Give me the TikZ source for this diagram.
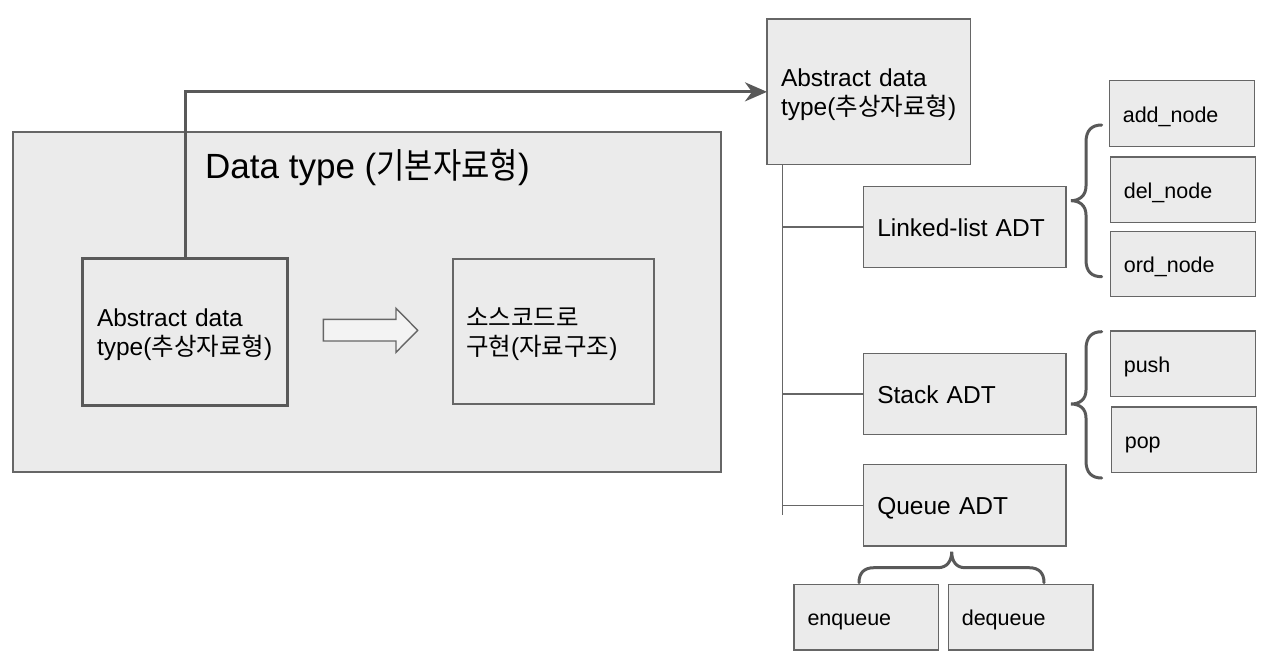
\documentclass[tikz,border=0pt]{standalone}
\usepackage{fontspec}
\usepackage{graphicx}
\setmainfont{Liberation Sans}
\newfontfamily\kr{Noto Sans CJK KR}
\usetikzlibrary{arrows.meta,calc}
\definecolor{boxfill}{HTML}{EBEBEB}
\definecolor{edge}{HTML}{666666}
\definecolor{dark}{HTML}{595959}
\definecolor{hollow}{HTML}{F3F3F3}
\begin{document}
\begin{tikzpicture}[x=1pt,y=-1pt,
  bx/.style n args={2}{draw=edge, fill=boxfill, line width=1.4pt, anchor=north west,
    inner xsep=14pt, inner ysep=0pt, outer sep=0pt, align=left,
    text width=#1, minimum height=#2},
  mid/.style={font=\fontsize{24.5}{29}\selectfont, text height=18.4pt, text depth=0pt},
  two/.style={font=\fontsize{24.5}{29}\selectfont, text height=0pt, text depth=#1},
  sml/.style={font=\fontsize{21.5}{24}\selectfont, text height=17.2pt, text depth=0pt},
  ln/.style={draw=edge, line width=1.4pt},
  brc/.style={draw=dark, line width=3pt, line cap=round},
  arr/.style={draw=dark, line width=3pt, -{Stealth[length=22pt,width=19pt,inset=7pt]}}
]
\useasboundingbox (0,0) rectangle (1275,653);
\fill[white] (0,0) rectangle (1275,653);

% left big box
\node[draw=edge, fill=boxfill, line width=1.4pt, anchor=north west, inner sep=0pt, outer sep=0pt,
  minimum width=708pt, minimum height=340pt] (dt) at (13,132) {};
\node[anchor=base west, inner sep=0pt, font=\fontsize{35}{40}\selectfont] (dtitle) at (205,178)
  {Data type (\scalebox{0.88}[1]{\kr 기본자료형})};

\node[bx={175pt}{147pt}, two=10.4pt, draw=dark, line width=3pt, inner xsep=15pt] (adtL) at (82,258)
  {Abstract data\\type({\kr 추상자료형})};
\node[bx={175pt}{145pt}, two=11pt, inner xsep=13pt] (impl) at (453,259)
  {{\kr 소스코드로}\\{\kr 구현}({\kr 자료구조})};

\draw[draw=edge, fill=hollow, line width=1.4pt, line join=miter]
  (323.3,319.3) -- (396,319.3) -- (396,308.3) -- (417.7,330.3) -- (396,352.3) -- (396,341) -- (323.3,341) -- cycle;

% right tree
\node[bx={175.7pt}{145.7pt}, two=10.3pt] (adtR) at (767,19)
  {Abstract data\\type({\kr 추상자료형})};
\node[bx={174.7pt}{81pt}, mid] (ll) at (863.3,186.3) {Linked-list ADT};
\node[bx={174.7pt}{81.4pt}, mid] (st) at (863.3,353.3) {Stack ADT};
\node[bx={174.7pt}{81.3pt}, mid] (qu) at (863.3,464.7) {Queue ADT};

\node[bx={118pt}{66pt}, sml, inner xsep=13.5pt] (add) at (1109.3,80.7) {add\_node};
\node[bx={118pt}{65.7pt}, sml, inner xsep=13.5pt] (del) at (1110.3,157) {del\_node};
\node[bx={118pt}{65.4pt}, sml, inner xsep=13.5pt] (ord) at (1110.3,231.3) {ord\_node};
\node[bx={118pt}{65.7pt}, sml, inner xsep=13.5pt] (push) at (1110.3,331) {push};
\node[bx={118.4pt}{65.7pt}, sml, inner xsep=13.5pt] (pop) at (1111.3,407) {pop};
\node[bx={117.7pt}{65.3pt}, sml, inner xsep=13.5pt] (enq) at (794,584.7) {enqueue};
\node[bx={117.7pt}{65.3pt}, sml, inner xsep=13.5pt] (deq) at (948.3,584.7) {dequeue};

% main arrow
\coordinate (aStart) at ($(adtL.north west)+(103,0)$);
\draw[arr] (aStart) |- (adtR.west);

% trunk
\coordinate (trTop) at ($(adtR.south west)+(15.7,0)$);
\coordinate (trEnd) at (782.7,515);
\draw[ln] (trTop) -- (trEnd);
\draw[ln] (ll.west -| trTop) -- (ll.west);
\draw[ln] (st.west -| trTop) -- (st.west);
\draw[ln] (qu.west -| trTop) -- (qu.west);

% braces
\draw[brc] (1101.7,125) .. controls (1092,125) and (1086,130) .. (1086,142)
  -- (1086,186) .. controls (1086,196) and (1079,200.7) .. (1071,200.7)
  .. controls (1079,200.7) and (1086,205) .. (1086,215)
  -- (1086,260) .. controls (1086,272) and (1092,276.7) .. (1101.7,276.7);
\draw[brc] (1101.7,331.7) .. controls (1092,331.7) and (1086,337) .. (1086,349)
  -- (1086,390) .. controls (1086,400) and (1079,404) .. (1071,404)
  .. controls (1079,404) and (1086,408) .. (1086,418)
  -- (1086,461) .. controls (1086,473) and (1092,478) .. (1101.7,478);
\draw[brc] (859,582.7) .. controls (859,573) and (864,567.7) .. (874,567.7)
  -- (938,567.7) .. controls (947,567.7) and (951.7,561) .. (951.7,551.7)
  .. controls (951.7,561) and (956,567.7) .. (965,567.7)
  -- (1029,567.7) .. controls (1039,567.7) and (1044,573) .. (1044,582.7);
\end{tikzpicture}
\end{document}
